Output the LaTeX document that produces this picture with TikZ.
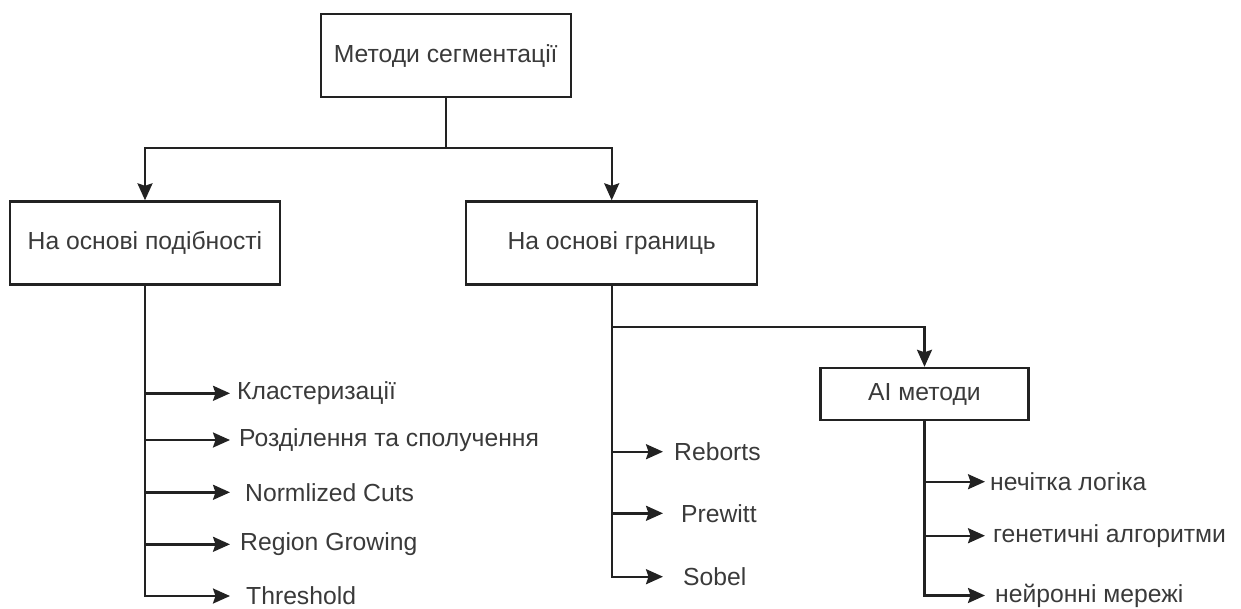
\documentclass[tikz,border=0pt]{standalone}
\usepackage{fontspec}
\setmainfont{Liberation Sans}
\usetikzlibrary{arrows.meta}
\definecolor{lc}{HTML}{222222}
\definecolor{tc}{HTML}{3A3A3A}
\begin{document}
\begin{tikzpicture}[x=1pt,y=-1pt,
  box/.style={draw=lc, line width=2.4pt, fill=white, inner sep=0pt, text=tc,
    font=\fontsize{24.7}{28}\selectfont},
  leaf/.style={anchor=west, inner ysep=0pt, text=tc, font=\fontsize{24.7}{28}\selectfont},
  conn/.style={draw=lc, line width=2.4pt},
  arr/.style={conn, -{Stealth[length=17pt,width=15pt,inset=2.5pt]}}]
\useasboundingbox (0,0) rectangle (1241,608);
% boxes
\node[box, minimum width=250pt, minimum height=83pt] (root) at (445.7,55.7) {Методи сегментації};
\node[box, minimum width=270pt, minimum height=83pt] (sim) at (145,243) {На основі подібності};
\node[box, minimum width=291pt, minimum height=83pt] (bnd) at (611.7,243) {На основі границь};
\node[box, minimum width=208pt, minimum height=52pt] (ai) at (924.5,394) {AI методи};
% leaves of left tree
\node[leaf, inner xsep=7pt] (l1) at (230,393.3) {Кластеризації};
\node[leaf, inner xsep=9pt] (l2) at (230,440) {Розділення та сполучення};
\node[leaf, inner xsep=15pt] (l3) at (230,492.3) {Normlized Cuts};
\node[leaf, inner xsep=10pt] (l4) at (230,544.3) {Region Growing};
\node[leaf, inner xsep=16pt] (l5) at (230,596) {Threshold};
% leaves of middle tree
\node[leaf, inner xsep=11pt] (m1) at (663,451.7) {Reborts};
\node[leaf, inner xsep=18pt] (m2) at (663,513.3) {Prewitt};
\node[leaf, inner xsep=20pt] (m3) at (663,576.7) {Sobel};
% leaves of AI tree
\node[leaf, inner xsep=5pt] (a1) at (985,481.7) {нечітка логіка};
\node[leaf, inner xsep=8pt] (a2) at (985,535.7) {генетичні алгоритми};
\node[leaf, inner xsep=10pt] (a3) at (985,595.5) {нейронні мережі};
% junctions
\coordinate (j0) at (root.south |- 0,148);
\coordinate (s1) at (sim.south |- l1.west);
\coordinate (s2) at (sim.south |- l2.west);
\coordinate (s3) at (sim.south |- l3.west);
\coordinate (s4) at (sim.south |- l4.west);
\coordinate (jb) at (bnd.south |- 0,326.7);
\coordinate (b1) at (bnd.south |- m1.west);
\coordinate (b2) at (bnd.south |- m2.west);
\coordinate (c1) at (ai.south |- a1.west);
\coordinate (c2) at (ai.south |- a2.west);
% connectors
\draw[conn] (root.south) -- (j0);
\draw[arr] (j0) -| (sim.north);
\draw[arr] (j0) -| (bnd.north);
\draw[arr] (sim.south) |- (l5.west);
\draw[arr] (s1) -- (l1.west);
\draw[arr] (s2) -- (l2.west);
\draw[arr] (s3) -- (l3.west);
\draw[arr] (s4) -- (l4.west);
\draw[arr] (bnd.south) |- (m3.west);
\draw[arr] (jb) -| (ai.north);
\draw[arr] (b1) -- (m1.west);
\draw[arr] (b2) -- (m2.west);
\draw[arr] (ai.south) |- (a3.west);
\draw[arr] (c1) -- (a1.west);
\draw[arr] (c2) -- (a2.west);
\end{tikzpicture}
\end{document}
